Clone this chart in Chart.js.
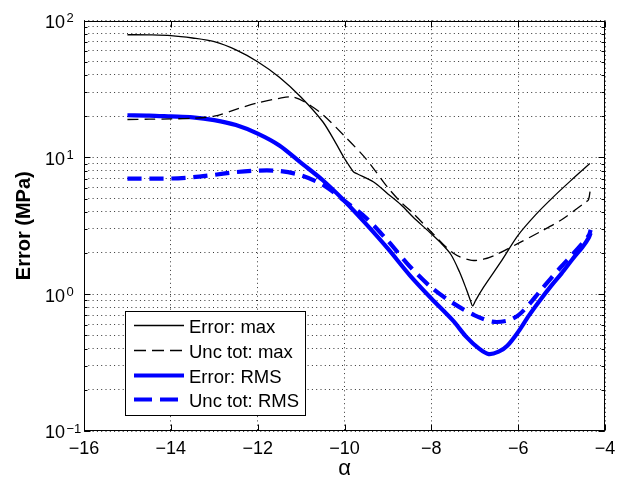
<!DOCTYPE html>
<html><head><meta charset="utf-8">
<script src="https://cdn.jsdelivr.net/npm/chart.js@4"></script>
<style>html,body{margin:0;padding:0;background:#fff;overflow:hidden}</style>
</head><body>
<canvas id="c" width="621" height="485"></canvas>
<script>
// ---- data ----
const errMaxX = [-15,-14.5,-14,-13.5,-13,-12.5,-12,-11.5,-11,-10.5,-10.2,-10,-9.85,-9.79,-9.7,-9.33,-9,-8.7,-8.4,-8.1,-7.8,-7.55,-7.35,-7.2,-7.1,-7.05,-6.98,-6.8,-6.4,-6,-5.6,-5.2,-4.8,-4.35];
const errMaxY = [78.7,78.5,77.6,74.5,70,61,50,38.5,27.5,18.2,12.7,9.8,8.3,7.8,7.55,6.6,5.4,4.5,3.6,2.95,2.4,1.95,1.45,1.1,0.9,0.82,0.9,1.12,1.72,2.7,3.8,5.1,6.7,9.0];

const uncMaxX = [-15,-14.5,-14,-13.5,-13,-12.5,-12,-11.5,-11.2,-10.9,-10.5,-10,-9.5,-9,-8.7,-8.4,-8,-7.5,-7.1,-6.8,-6.5,-6,-5.5,-5,-4.45,-4.38,-4.33];
const uncMaxY = [18.9,19.0,19.1,19.3,20.0,22.4,25.0,27.0,27.6,25.2,20.5,14.3,9.7,6.0,4.7,3.85,2.85,2.0,1.77,1.8,1.95,2.35,2.85,3.5,4.7,4.9,6.1];

const errRmsX = [-15,-14.5,-14,-13.5,-13,-12.5,-12,-11.5,-11,-10.5,-10,-9.5,-9,-8.5,-8,-7.5,-7.2,-6.9,-6.68,-6.45,-6.25,-6,-5.75,-5.5,-5.25,-5,-4.75,-4.5,-4.37,-4.33];
const errRmsY = [20.3,20.2,19.9,19.6,18.7,17.2,14.9,12.2,9.1,6.8,4.8,3.25,2.15,1.38,0.93,0.64,0.49,0.4,0.365,0.38,0.42,0.53,0.7,0.9,1.14,1.42,1.8,2.25,2.6,2.8];

const uncRmsX = [-15,-14.5,-14,-13.5,-13,-12.5,-12,-11.5,-11,-10.5,-10,-9.5,-9,-8.5,-8,-7.5,-7,-6.6,-6.25,-6,-5.75,-5.5,-5.25,-5,-4.75,-4.5,-4.37,-4.33];
const uncRmsY = [7.0,7.0,7.0,7.15,7.45,7.8,8.0,7.95,7.4,6.3,4.8,3.6,2.45,1.6,1.12,0.86,0.7,0.63,0.64,0.7,0.84,1.05,1.3,1.6,1.95,2.4,2.7,2.95];

const seriesLabels = ['Error: max','Unc tot: max','Error: RMS','Unc tot: RMS'];
const xTicks = [-16,-14,-12,-10,-8,-6,-4];
const xTickLabels = ['\u221216','\u221214','\u221212','\u221210','\u22128','\u22126','\u22124'];
const yTicks = [0.1,0.2,0.3,0.4,0.5,0.6,0.7,0.8,0.9,1,2,3,4,5,6,7,8,9,10,20,30,40,50,60,70,80,90,100];
const yMajor = [0.1,1,10,100];
const yTickBase = '10';
const yTickExp = ['\u22121','0','1','2'];
const xTitle = '\u03B1';
const yTitle = 'Error (MPa)';

const pts = (xs, ys) => xs.map((x, i) => ({x: x, y: ys[i]}));
const FONT = "'Liberation Sans', Arial, sans-serif";

const frame = {
  id: 'frame',
  afterDraw(chart) {
    const ctx = chart.ctx, a = chart.chartArea;
    const xs = chart.scales.x, ys = chart.scales.y;
    const L = Math.round(a.left) + 0.5, R = Math.round(a.right) - 0.5;
    const T = Math.round(a.top) + 0.5, B = Math.round(a.bottom) - 0.5;
    ctx.save();
    ctx.strokeStyle = '#000'; ctx.lineWidth = 1; ctx.setLineDash([]);
    ctx.strokeRect(L, T, R - L, B - T);
    ctx.beginPath();
    xTicks.forEach(v => {
      const px = Math.round(xs.getPixelForValue(v)) + 0.5;
      ctx.moveTo(px, B); ctx.lineTo(px, B - 6);
      ctx.moveTo(px, T); ctx.lineTo(px, T + 6);
    });
    yTicks.forEach(v => {
      const py = Math.round(ys.getPixelForValue(v)) + 0.5;
      const len = yMajor.includes(v) ? 6 : 3;
      ctx.moveTo(L, py); ctx.lineTo(L + len, py);
      ctx.moveTo(R, py); ctx.lineTo(R - len, py);
    });
    ctx.stroke();

    // exponents of the y tick labels
    ctx.fillStyle = '#000';
    ctx.font = "13px " + FONT;
    ctx.textAlign = 'left';
    ctx.textBaseline = 'alphabetic';
    yMajor.forEach((v, i) => {
      const py = ys.getPixelForValue(v);
      ctx.fillText(yTickExp[i], 66.5, py + 1.5);
    });

    // legend
    const bx = 125.5, by = 311.5, bw = 180, bh = 104;
    ctx.fillStyle = '#fff';
    ctx.fillRect(bx, by, bw, bh);
    ctx.strokeRect(bx, by, bw, bh);
    const rows = [333, 358, 383, 407];
    chart.data.datasets.forEach((ds, i) => {
      const ly = rows[i] - 7.5;
      ctx.beginPath();
      ctx.strokeStyle = ds.borderColor;
      ctx.lineWidth = ds.borderWidth;
      ctx.setLineDash(ds.legendDash || []);
      ctx.moveTo(134, ly); ctx.lineTo(184, ly);
      ctx.stroke();
      ctx.setLineDash([]);
      ctx.fillStyle = '#000';
      ctx.font = "18.5px " + FONT;
      ctx.textBaseline = 'alphabetic';
      ctx.textAlign = 'left';
      ctx.fillText(ds.label, 189, rows[i]);
    });
    ctx.restore();
  }
};

new Chart(document.getElementById('c'), {
  type: 'line',
  data: {
    datasets: [
      {label: seriesLabels[0], data: pts(errMaxX, errMaxY), borderColor: '#000', borderWidth: 1.3},
      {label: seriesLabels[1], data: pts(uncMaxX, uncMaxY), borderColor: '#000', borderWidth: 1.3, borderDash: [11, 6], legendDash: [12, 6]},
      {label: seriesLabels[2], data: pts(errRmsX, errRmsY), borderColor: '#0000ff', borderWidth: 4.2},
      {label: seriesLabels[3], data: pts(uncRmsX, uncRmsY), borderColor: '#0000ff', borderWidth: 4.2, borderDash: [14, 8], legendDash: [18, 8]}
    ]
  },
  options: {
    responsive: false,
    animation: false,
    devicePixelRatio: 1,
    layout: {padding: {left: 0, right: 16, top: 20.5, bottom: 0}},
    elements: {point: {radius: 0}, line: {borderCapStyle: 'butt', tension: 0.3}},
    plugins: {legend: {display: false}, tooltip: {enabled: false}},
    scales: {
      x: {
        type: 'linear', min: -16, max: -4,
        afterBuildTicks: s => { s.ticks = xTicks.map(v => ({value: v})); },
        afterFit: s => { s.height = 54; s.paddingLeft = 0; s.paddingRight = 0; },
        ticks: {
          autoSkip: false, maxRotation: 0, padding: 7, color: '#000',
          font: {family: FONT, size: 18},
          callback: v => xTickLabels[xTicks.indexOf(v)]
        },
        grid: {color: 'rgba(0,0,0,0.8)', lineWidth: 1, drawTicks: false},
        border: {display: false, dash: [1, 3.3]},
        title: {display: true, text: xTitle, color: '#000', font: {family: FONT, size: 22}, padding: {top: 0, bottom: 3}}
      },
      y: {
        type: 'logarithmic', min: 0.1, max: 100,
        afterBuildTicks: s => { s.ticks = yTicks.map(v => ({value: v})); },
        afterFit: s => { s.width = 84; s.paddingTop = 0; s.paddingBottom = 0; },
        ticks: {
          autoSkip: false, padding: 19, color: '#000', labelOffset: 2.5,
          font: {family: FONT, size: 18},
          callback: v => (yMajor.indexOf(v) >= 0 ? yTickBase : '')
        },
        grid: {color: 'rgba(0,0,0,0.8)', lineWidth: 1, drawTicks: false},
        border: {display: false, dash: [1, 3.3]},
        title: {display: true, text: yTitle, color: '#000', font: {family: FONT, size: 20, weight: 'bold'}, padding: {top: 12, bottom: 0}}
      }
    }
  },
  plugins: [frame]
});
</script>
</body></html>
